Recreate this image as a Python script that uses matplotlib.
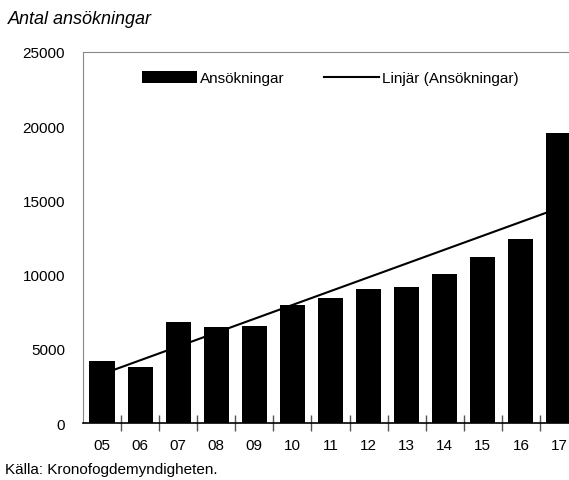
import matplotlib.pyplot as plt
import numpy as np

# Ansökningar per år
years = ["05", "06", "07", "08", "09", "10", "11", "12", "13", "14", "15", "16", "17"]
applications = [4150, 3800, 6800, 6500, 6560, 7950, 8420, 9030, 9160, 10040, 11190, 12400, 19520]

font = "Liberation Sans"

fig = plt.figure(figsize=(5.69, 4.81), dpi=100)
ax = fig.add_axes([83 / 569, 1 - 424 / 481, 495 / 569, 371 / 481])

x = np.arange(len(years))
bars = ax.bar(x, applications, width=0.66, color="black", label="Ansökningar", zorder=2)

# linear trend line
k, m = np.polyfit(x, applications, 1)
line, = ax.plot(x, k * x + m, color="black", lw=1.5, label="Linjär (Ansökningar)", zorder=3)

ax.set_xlim(-0.5, len(years) - 0.5)
ax.set_ylim(0, 25000)
ax.set_yticks(np.arange(0, 25001, 5000))
ax.set_xticks(x)
ax.set_xticklabels(years, family=font, fontsize=11)
for lbl in ax.get_yticklabels():
    lbl.set_family(font)
    lbl.set_fontsize(11)

ax.tick_params(axis="y", length=0, pad=13)
ax.tick_params(axis="x", which="major", length=0, pad=11)
ax.set_xticks(np.arange(0.5, len(years) - 0.5, 1), minor=True)
ax.tick_params(axis="x", which="minor", direction="inout", length=11, color="#555555", width=1)

ax.spines["right"].set_visible(False)
ax.spines["top"].set_color("#888888")
ax.spines["left"].set_color("#888888")
ax.spines["bottom"].set_color("black")
ax.spines["bottom"].set_linewidth(1.2)

leg = ax.legend([bars, line], ["Ansökningar", "Linjär (Ansökningar)"],
                loc="upper center", ncol=2, frameon=False, bbox_to_anchor=(0.5, 0.985),
                prop={"family": font, "size": 11}, handlelength=3.6, handleheight=0.8,
                columnspacing=2.6, handletextpad=0.2)

fig.text(8 / 569, 1 - 20 / 481, "Antal ansökningar", fontsize=13, style="italic",
         family=font, va="center")
fig.text(5 / 569, 1 - 470 / 481, "Källa: Kronofogdemyndigheten.", fontsize=11,
         family=font, va="center")

fig.savefig("out.png", dpi=100, facecolor="white")
